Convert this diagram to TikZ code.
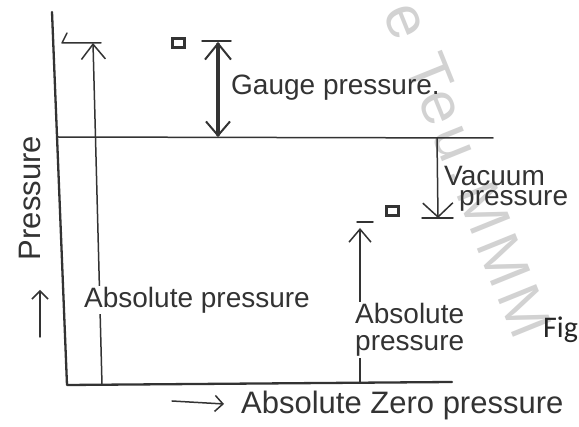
\documentclass[tikz,border=0pt]{standalone}
\usepackage{fontspec}
\setmainfont{Liberation Sans}
\newfontfamily\figfont{Carlito}
\newfontfamily\wmfont[LetterSpace=10]{Liberation Sans}
\usetikzlibrary{arrows.meta}
\begin{document}
\begin{tikzpicture}[x=1pt,y=-1pt,
  ink/.style={draw=black!80, line cap=round, line join=round},
  axisline/.style={ink, line width=2.3pt},
  fine/.style={ink, line width=1.5pt},
  heavy/.style={ink, line width=4pt},
  tipup/.style={-{Straight Barb[length=15pt,width=24pt,line width=1.5pt]}},
  lbl/.style={text=black!80, inner sep=1pt, font=\fontsize{28}{30}\selectfont},
  biglbl/.style={lbl, font=\fontsize{31}{33}\selectfont},
  marker/.style={draw=black!80, line width=3pt, minimum width=12pt, minimum height=9pt, inner sep=0pt},
]
\useasboundingbox (0,0) rectangle (579,427);
\fill[white] (0,0) rectangle (579,427);

% watermark
\node[text=gray!35, font=\wmfont\fontsize{60}{60}\selectfont, rotate=-68] (wm) at (468,170) {e Teu.MMM};

% axes
\coordinate (axtop) at (52,12);
\coordinate (origin) at (67,385);
\coordinate (axend) at (452,382);
\draw[axisline] (axtop) -- (origin) -- (axend);

% atmospheric line
\coordinate (atmL) at (57,137);
\coordinate (atmR) at (493,138);
\draw[fine] (atmL) -- (atmR);

% left absolute pressure
\coordinate (la0) at (102,385);
\coordinate (la1) at (93,43);
\coordinate (lh0) at (67,33);
\coordinate (lh1) at (62,43);
\coordinate (lh2) at (101,43);
\draw[fine, tipup] (la0) -- (la1);
\draw[fine] (lh0) -- (lh1) -- (lh2);
\node[lbl, fill=white] (absL) at (197,300) {Absolute pressure};

% gauge pressure
\coordinate (g0) at (218,137);
\coordinate (g1) at (218,42);
\coordinate (gt0) at (202,41);
\coordinate (gt1) at (231,41);
\draw[heavy, {Straight Barb[length=14pt,width=24pt,line width=2pt]}-{Straight Barb[length=16pt,width=26pt,line width=2pt]}] (g0) -- (g1);
\draw[fine] (gt0) -- (gt1);
\node[marker] (sq1) at (178,43) {};
\node[lbl, anchor=west] (gauge) at (230,88) {Gauge pressure.};

% vacuum pressure
\coordinate (v0) at (437,138);
\coordinate (v1) at (438,218);
\coordinate (vt0) at (422,218);
\coordinate (vt1) at (453,218);
\draw[fine, -{Straight Barb[length=14pt,width=30pt,line width=1.5pt]}] (v0) -- (v1);
\draw[fine] (vt0) -- (vt1);
\node[marker] (sq2) at (392,211) {};
\node[lbl, anchor=west] (vac1) at (443,176) {Vacuum};
\node[lbl, anchor=west] (vac2) at (458,201) {pressure};

% right absolute pressure
\coordinate (ra0) at (360,383);
\coordinate (ra1) at (360,228);
\coordinate (rt0) at (357,222);
\coordinate (rt1) at (373,222);
\draw[fine, -{Straight Barb[length=13pt,width=22pt,line width=1.5pt]}] (ra0) -- (ra1);
\draw[fine] (rt0) -- (rt1);
\node[lbl, fill=white, align=right, anchor=west, font=\fontsize{28}{27}\selectfont] (absR) at (354,330) {Absolute\\pressure};

% axis labels
\node[biglbl, rotate=90] (plab) at (30,198) {Pressure};
\coordinate (pa0) at (40,337);
\coordinate (pa1) at (40,290);
\draw[fine, -{Straight Barb[length=8pt,width=16pt,line width=1.5pt]}] (pa0) -- (pa1);

\node[biglbl, anchor=west] (zero) at (240,405) {Absolute Zero pressure};
\coordinate (za0) at (172,401);
\coordinate (za1) at (224,404);
\draw[fine, -{Straight Barb[length=8pt,width=16pt,line width=1.5pt]}] (za0) -- (za1);

\node[font=\figfont\fontsize{30}{32}\selectfont, anchor=base west, inner sep=0pt, text=black!85] (fig) at (543,338) {Fig};
\end{tikzpicture}
\end{document}
